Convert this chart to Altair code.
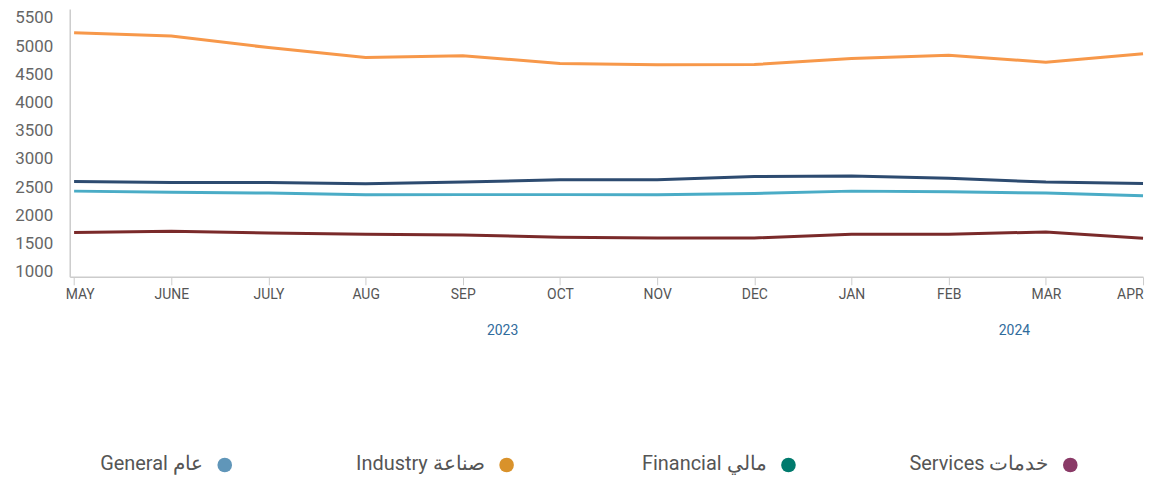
import altair as alt
import pandas as pd

months = ["MAY", "JUNE", "JULY", "AUG", "SEP", "OCT", "NOV", "DEC", "JAN", "FEB", "MAR", "APR"]
series = ["Industry", "General", "Financial", "Services"]
industry = [5240, 5180, 4975, 4800, 4830, 4695, 4670, 4675, 4780, 4840, 4715, 4865]
general = [2600, 2585, 2585, 2560, 2590, 2630, 2630, 2690, 2700, 2660, 2590, 2565]
financial = [2430, 2412, 2395, 2365, 2368, 2368, 2365, 2388, 2430, 2418, 2395, 2348]
services = [1695, 1718, 1688, 1665, 1653, 1612, 1600, 1600, 1665, 1665, 1706, 1595]
line_colors = ["#f7984a", "#2d4b70", "#4aacc6", "#7a2a2a"]

years = ["2023", "2024"]
year_anchor = ["SEP", "FEB"]
year_dx = [40, 66]

legend_labels = ["General عام", "Industry صناعة", "Financial مالي", "Services خدمات"]
legend_colors = ["#6096b9", "#d9922b", "#007a6d", "#8a3a67"]

y_ticks = list(range(1000, 5501, 500))

rows = []
for name, vals in zip(series, [industry, general, financial, services]):
    for i, (m, v) in enumerate(zip(months, vals)):
        rows.append({"series": name, "month": m, "idx": i, "value": v})
df = pd.DataFrame(rows)

W = 1078
H = 269

first_test = "datum.value == '%s'" % months[0]
last_test = "datum.value == '%s'" % months[-1]

x_enc = alt.X(
    "month:N",
    sort=months,
    scale=alt.Scale(type="point", padding=0.0225, align=1),
    axis=alt.Axis(
        title=None, labelAngle=0, domainColor="#cccccc", domainWidth=1.5,
        tickColor="#cccccc", tickSize=8, tickWidth=1, labelPadding=3,
        labelFontSize=14, labelColor="#555555", labelFont="Roboto", grid=False,
        labelFlush=False,
        labelAlign={"condition": [{"test": first_test, "value": "left"},
                                  {"test": last_test, "value": "right"}],
                    "value": "center"},
        labelOffset={"condition": {"test": first_test, "value": -9}, "value": 0},
    ),
)

lines = alt.Chart(df).mark_line(strokeWidth=3, interpolate="linear").encode(
    x=x_enc,
    y=alt.Y(
        "value:Q",
        scale=alt.Scale(domain=[910, 5659], nice=False, zero=False),
        axis=alt.Axis(
            title=None, values=y_ticks, format="d", grid=False, ticks=False,
            domainColor="#cccccc", domainWidth=1.5, labelPadding=17,
            labelFontSize=17, labelColor="#666666", labelFont="Roboto",
        ),
    ),
    color=alt.Color("series:N", scale=alt.Scale(domain=series, range=line_colors), legend=None),
    order=alt.Order("idx:Q"),
)

layers = [lines]
for yr, anc, dx in zip(years, year_anchor, year_dx):
    ydf = pd.DataFrame({"year": [yr], "month": [anc]})
    layers.append(
        alt.Chart(ydf).mark_text(
            dx=dx, fontSize=14, color="#2f6b9c", font="Roboto", baseline="middle"
        ).encode(
            x=alt.X("month:N", sort=months),
            y=alt.value(H + 54),
            text="year:N",
        )
    )

top = alt.layer(*layers).properties(width=W, height=H)

ldf = pd.DataFrame({"label": legend_labels, "color": legend_colors, "pos": list(range(len(legend_labels)))})
lx = alt.X("pos:Q", scale=alt.Scale(domain=[-0.55, 3.258], nice=False, zero=False), axis=None)
leg_dots = alt.Chart(ldf).mark_circle(size=215, opacity=1).encode(
    x=lx,
    y=alt.value(10),
    color=alt.Color("color:N", scale=None),
)
leg_text = alt.Chart(ldf).mark_text(
    align="right", baseline="middle", dx=-22, fontSize=20, color="#555555", font="Roboto"
).encode(
    x=lx,
    y=alt.value(9),
    text="label:N",
)
legend = alt.layer(leg_dots, leg_text).properties(width=W, height=20)

chart = alt.vconcat(top, legend, spacing=117).properties(
    padding={"left": 6, "top": 0, "right": 0, "bottom": 0}
).configure_view(stroke=None)

chart.save("out.html", embed_options={"renderer": "svg", "actions": False})
